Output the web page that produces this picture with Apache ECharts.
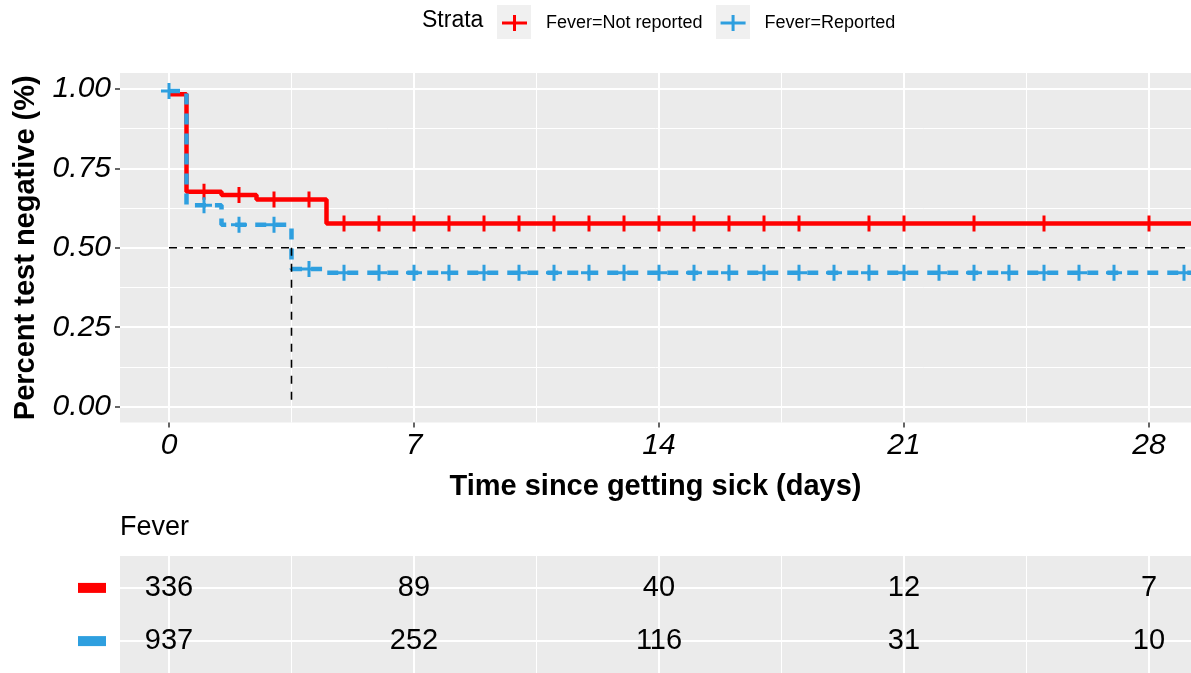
<!DOCTYPE html>
<html><head><meta charset="utf-8">
<script src="https://cdn.jsdelivr.net/npm/echarts@6/dist/echarts.min.js"></script>
<style>html,body{margin:0;padding:0;background:#fff}#c{width:1191px;height:673px}</style>
</head><body><div id="c"></div>
<script>
// ---- data ----
const xTicks = [0, 7, 14, 21, 28];
const xMinorTicks = [3.5, 10.5, 17.5, 24.5];
const yTicks = [0, 0.25, 0.5, 0.75, 1];
const yMinorTicks = [0.125, 0.375, 0.625, 0.875];

const strata = ['Fever=Not reported', 'Fever=Reported'];

// Kaplan-Meier steps (time, survival)
const redTimes = [0, 0.5, 1.5, 2.5, 4.5, 29.5];
const redSurv  = [0.983, 0.676, 0.666, 0.652, 0.576, 0.576];
const blueTimes = [0, 0.5, 1.5, 3.5, 4.4, 29.5];
const blueSurv  = [0.993, 0.634, 0.572, 0.433, 0.421, 0.421];

// censoring marks
const redCensorTimes = [1, 2, 3, 4, 5, 6, 7, 8, 9, 10, 11, 12, 13, 14, 15, 16, 17, 18, 20, 21, 23, 25, 28];
const redCensorSurv  = [0.676, 0.666, 0.652, 0.652, 0.576, 0.576, 0.576, 0.576, 0.576, 0.576, 0.576, 0.576, 0.576, 0.576, 0.576, 0.576, 0.576, 0.576, 0.576, 0.576, 0.576, 0.576, 0.576];
const blueCensorTimes = [0, 1, 2, 3, 4, 5, 6, 7, 8, 9, 10, 11, 12, 13, 14, 15, 16, 17, 18, 19, 20, 21, 22, 23, 24, 25, 26, 27, 29];
const blueCensorSurv  = [0.993, 0.634, 0.572, 0.572, 0.433, 0.421, 0.421, 0.421, 0.421, 0.421, 0.421, 0.421, 0.421, 0.421, 0.421, 0.421, 0.421, 0.421, 0.421, 0.421, 0.421, 0.421, 0.421, 0.421, 0.421, 0.421, 0.421, 0.421, 0.421];

// median survival guide
const medianSurv = 0.5;
const medianTime = 3.5;
const medianHTimes = [0, 29.5];
const medianVSurv = [0.5, 0];

// risk table
const riskTimes = [0, 7, 14, 21, 28];
const riskRed  = [336, 89, 40, 12, 7];
const riskBlue = [937, 252, 116, 31, 10];
const riskRows = [1, 2];

// ---- styles ----
const RED = '#FF0000', BLUE = '#2E9FDF';
const FONT = '"Liberation Sans", Arial, sans-serif';
const PLUS = 'path://M-1.5,-8h3v6.5h6.5v3h-6.5v6.5h-3v-6.5h-6.5v-3h6.5z';
const KEY = 'path://M0,6.5h11v-6.5h3v6.5h11v3h-11v6.5h-3v-6.5h-11z';
const XMIN = -1.4, XMAX = 29.2;

const zip = (a, b) => a.map((v, i) => [v, b[i]]);

const chart = echarts.init(document.getElementById('c'), null, {renderer: 'canvas'});

const majorX = (gi, showLabel) => ({
  type: 'value', gridIndex: gi, min: XMIN, max: XMAX, position: 'bottom',
  axisLine: {show: false, onZero: false},
  axisTick: {show: showLabel, customValues: xTicks, length: 5, lineStyle: {color: '#333', width: 1.5}},
  axisLabel: {show: showLabel, customValues: xTicks, fontSize: 30, fontStyle: 'italic', color: '#000', fontFamily: FONT, margin: 8},
  splitLine: {show: true, lineStyle: {color: '#fff', width: 2}}
});
const minorX = (gi) => ({
  type: 'value', gridIndex: gi, min: XMIN, max: XMAX,
  axisLine: {show: false, onZero: false},
  axisTick: {show: false, customValues: xMinorTicks},
  axisLabel: {show: false, customValues: xMinorTicks},
  splitLine: {show: true, lineStyle: {color: '#fff', width: 1}}
});

const tableLabel = {
  show: true, position: 'inside', formatter: p => String(p.value[2]),
  fontSize: 29, color: '#000', opacity: 1, textBorderWidth: 0, fontFamily: FONT
};

const option = {
  animation: false,
  backgroundColor: '#fff',
  textStyle: {fontFamily: FONT},
  title: {
    text: 'Fever', left: 120, top: 514, padding: 0,
    textStyle: {fontSize: 27, fontWeight: 'normal', color: '#000', fontFamily: FONT}
  },
  graphic: [
    {type: 'text', left: 422, top: 9, style: {text: 'Strata', fontSize: 23, fill: '#000', fontFamily: FONT}},
    {type: 'rect', left: 497, top: 5, shape: {width: 34, height: 34}, style: {fill: '#F0F0F0'}, z: -1},
    {type: 'rect', left: 716, top: 5, shape: {width: 34, height: 34}, style: {fill: '#F0F0F0'}, z: -1}
  ],
  legend: {
    left: 502, top: 14, padding: 0,
    itemWidth: 25, itemHeight: 16, itemGap: 18,
    data: [{name: strata[0], icon: KEY}, {name: strata[1], icon: KEY}],
    itemStyle: {borderWidth: 0},
    textStyle: {fontSize: 18, color: '#000', fontFamily: FONT, padding: [0, 0, 0, 14]}
  },
  grid: [
    {left: 120, top: 73, width: 1071, height: 349.5, show: true, backgroundColor: '#EBEBEB', borderWidth: 0},
    {left: 120, top: 556, width: 1071, height: 121, show: true, backgroundColor: '#EBEBEB', borderWidth: 0}
  ],
  xAxis: [
    Object.assign(majorX(0, true), {
      name: 'Time since getting sick (days)', nameLocation: 'middle', nameGap: 50,
      nameTextStyle: {fontSize: 29, fontWeight: 'bold', color: '#000', fontFamily: FONT}
    }),
    minorX(0),
    majorX(1, false),
    minorX(1)
  ],
  yAxis: [
    {
      type: 'value', gridIndex: 0, min: -0.05, max: 1.05, position: 'left',
      name: 'Percent test negative (%)', nameLocation: 'middle', nameGap: 80,
      nameTextStyle: {fontSize: 29, fontWeight: 'bold', color: '#000', fontFamily: FONT},
      axisLine: {show: false, onZero: false},
      axisTick: {show: true, customValues: yTicks, length: 5, lineStyle: {color: '#333', width: 1.5}},
      axisLabel: {customValues: yTicks, fontSize: 30, fontStyle: 'italic', color: '#000', fontFamily: FONT, margin: 9,
        formatter: v => v.toFixed(2)},
      splitLine: {show: true, lineStyle: {color: '#fff', width: 2}}
    },
    {
      type: 'value', gridIndex: 0, min: -0.05, max: 1.05,
      axisLine: {show: false, onZero: false},
      axisTick: {show: false, customValues: yMinorTicks},
      axisLabel: {show: false, customValues: yMinorTicks},
      splitLine: {show: true, lineStyle: {color: '#fff', width: 1}}
    },
    {
      type: 'value', gridIndex: 1, min: 0.4, max: 2.6, inverse: true, position: 'left',
      axisLine: {show: false, onZero: false},
      axisTick: {show: false, customValues: riskRows},
      axisLabel: {customValues: riskRows, margin: 14,
        formatter: v => v === 1 ? '{r| }' : '{b| }',
        rich: {r: {width: 28, height: 10, backgroundColor: RED}, b: {width: 28, height: 10, backgroundColor: BLUE}}},
      splitLine: {show: true, lineStyle: {color: '#fff', width: 2}}
    }
  ],
  series: [
    {
      name: strata[0], type: 'line', step: 'end', xAxisIndex: 0, yAxisIndex: 0,
      data: zip(redTimes, redSurv), showSymbol: false, symbol: 'none',
      lineStyle: {color: RED, width: 4.5}, itemStyle: {color: RED}, z: 3
    },
    {
      name: strata[1], type: 'line', step: 'end', xAxisIndex: 0, yAxisIndex: 0,
      data: zip(blueTimes, blueSurv), showSymbol: false, symbol: 'none',
      lineStyle: {color: BLUE, width: 4.5, type: [11, 9]}, itemStyle: {color: BLUE}, z: 3
    },
    {
      name: 'medianH', type: 'line', xAxisIndex: 0, yAxisIndex: 0,
      data: zip(medianHTimes, medianHTimes.map(() => medianSurv)), symbol: 'none',
      lineStyle: {color: '#000', width: 1.6, type: [8, 8]}, z: 4
    },
    {
      name: 'medianV', type: 'line', xAxisIndex: 0, yAxisIndex: 0,
      data: zip(medianVSurv.map(() => medianTime), medianVSurv), symbol: 'none',
      lineStyle: {color: '#000', width: 1.6, type: [8, 8]}, z: 4
    },
    {
      name: 'redCensor', type: 'scatter', xAxisIndex: 0, yAxisIndex: 0,
      data: zip(redCensorTimes, redCensorSurv), symbol: PLUS, symbolSize: 16,
      itemStyle: {color: RED, opacity: 1}, z: 5
    },
    {
      name: 'blueCensor', type: 'scatter', xAxisIndex: 0, yAxisIndex: 0,
      data: zip(blueCensorTimes, blueCensorSurv), symbol: PLUS, symbolSize: 16,
      itemStyle: {color: BLUE, opacity: 1}, z: 5
    },
    {
      name: 'riskRed', type: 'scatter', xAxisIndex: 2, yAxisIndex: 2,
      data: riskTimes.map((t, i) => [t, riskRows[0], riskRed[i]]), symbol: 'circle', symbolSize: 1,
      itemStyle: {color: '#000', opacity: 0}, label: tableLabel, z: 6
    },
    {
      name: 'riskBlue', type: 'scatter', xAxisIndex: 2, yAxisIndex: 2,
      data: riskTimes.map((t, i) => [t, riskRows[1], riskBlue[i]]), symbol: 'circle', symbolSize: 1,
      itemStyle: {color: '#000', opacity: 0}, label: tableLabel, z: 6
    }
  ]
};
chart.setOption(option);
</script>
</body></html>
